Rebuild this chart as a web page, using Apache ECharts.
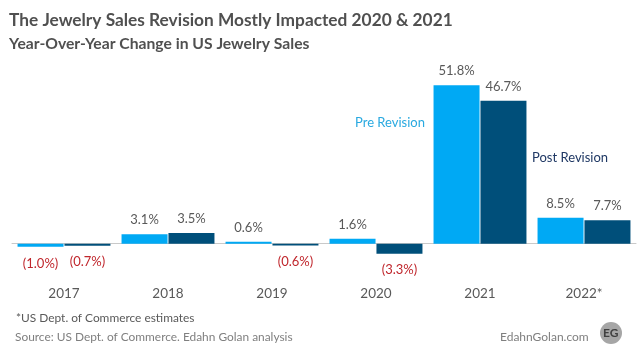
<!DOCTYPE html>
<html>
<head>
<meta charset="utf-8">
<title>US Jewelry Sales Revision</title>
<script src="https://cdn.jsdelivr.net/npm/echarts@6/dist/echarts.min.js"></script>
<style>
html,body{margin:0;padding:0;background:#fff;}
#chart{width:643px;height:351px;}
</style>
</head>
<body>
<div id="chart"></div>
<script>
var years = ["2017", "2018", "2019", "2020", "2021", "2022*"];
var preRevision = [-1.0, 3.1, 0.6, 1.6, 51.8, 8.5];
var postRevision = [-0.7, 3.5, -0.6, -3.3, 46.7, 7.7];

var FONT = "Lato";
var GREY = "#595959";
var RED = "#c0272d";

function pct(v) {
    return v < 0 ? "(" + Math.abs(v).toFixed(1) + "%)" : v.toFixed(1) + "%";
}

function barData(values, negDistance) {
    return values.map(function (v) {
        return {
            value: v,
            label: {
                position: v < 0 ? "bottom" : "top",
                distance: v < 0 ? negDistance : 7.5,
                color: v < 0 ? RED : GREY
            }
        };
    });
}

function barSeries(name, values, color, negDistance) {
    return {
        name: name,
        type: "bar",
        barWidth: 46,
        barGap: "2%",
        itemStyle: {color: color},
        label: {
            show: true,
            fontFamily: FONT,
            fontSize: 13,
            formatter: function (p) { return pct(p.value); }
        },
        data: barData(values, negDistance)
    };
}

var chart = echarts.init(document.getElementById("chart"));
chart.setOption({
    animation: false,
    backgroundColor: "#fff",
    grid: {left: 12, right: 7, top: 75.4, height: 198.9},
    xAxis: {
        type: "category",
        data: years,
        axisTick: {show: false},
        axisLine: {onZero: true, lineStyle: {color: "#c9c9c9", width: 1}},
        axisLabel: {margin: 12, color: GREY, fontFamily: FONT, fontSize: 13.5}
    },
    yAxis: {type: "value", min: -10, max: 55, show: false, splitLine: {show: false}},
    series: [
        barSeries("Pre Revision", preRevision, "#00a9f4", 11),
        barSeries("Post Revision", postRevision, "#004f7a", 9.5)
    ],
    graphic: [
        {type: "text", left: 9, top: 12, style: {text: "The Jewelry Sales Revision Mostly Impacted 2020 & 2021", fill: "#505050", font: "bold 17.3px " + FONT}},
        {type: "text", left: 9, top: 36, style: {text: "Year-Over-Year Change in US Jewelry Sales", fill: "#505050", font: "bold 15.7px " + FONT}},
        {type: "text", left: 355, top: 116, style: {text: "Pre Revision", fill: "#29a9e0", font: "13px " + FONT}},
        {type: "text", left: 532, top: 151, style: {text: "Post Revision", fill: "#1f3864", font: "13px " + FONT}},
        {type: "text", left: 16, top: 312, style: {text: "*US Dept. of Commerce estimates", fill: GREY, font: "11.9px " + FONT}},
        {type: "text", left: 15, top: 331, style: {text: "Source: US Dept. of Commerce. Edahn Golan analysis", fill: "#7f7f7f", font: "11.9px " + FONT}},
        {type: "text", left: 500, top: 331, style: {text: "EdahnGolan.com", fill: "#7f7f7f", font: "12px " + FONT}},
        {type: "circle", shape: {cx: 611, cy: 333, r: 11}, style: {fill: "#a6a6a6"}},
        {type: "text", left: 603, top: 327, style: {text: "EG", fill: "#404040", font: "bold 12px " + FONT}}
    ]
});
</script>
</body>
</html>
